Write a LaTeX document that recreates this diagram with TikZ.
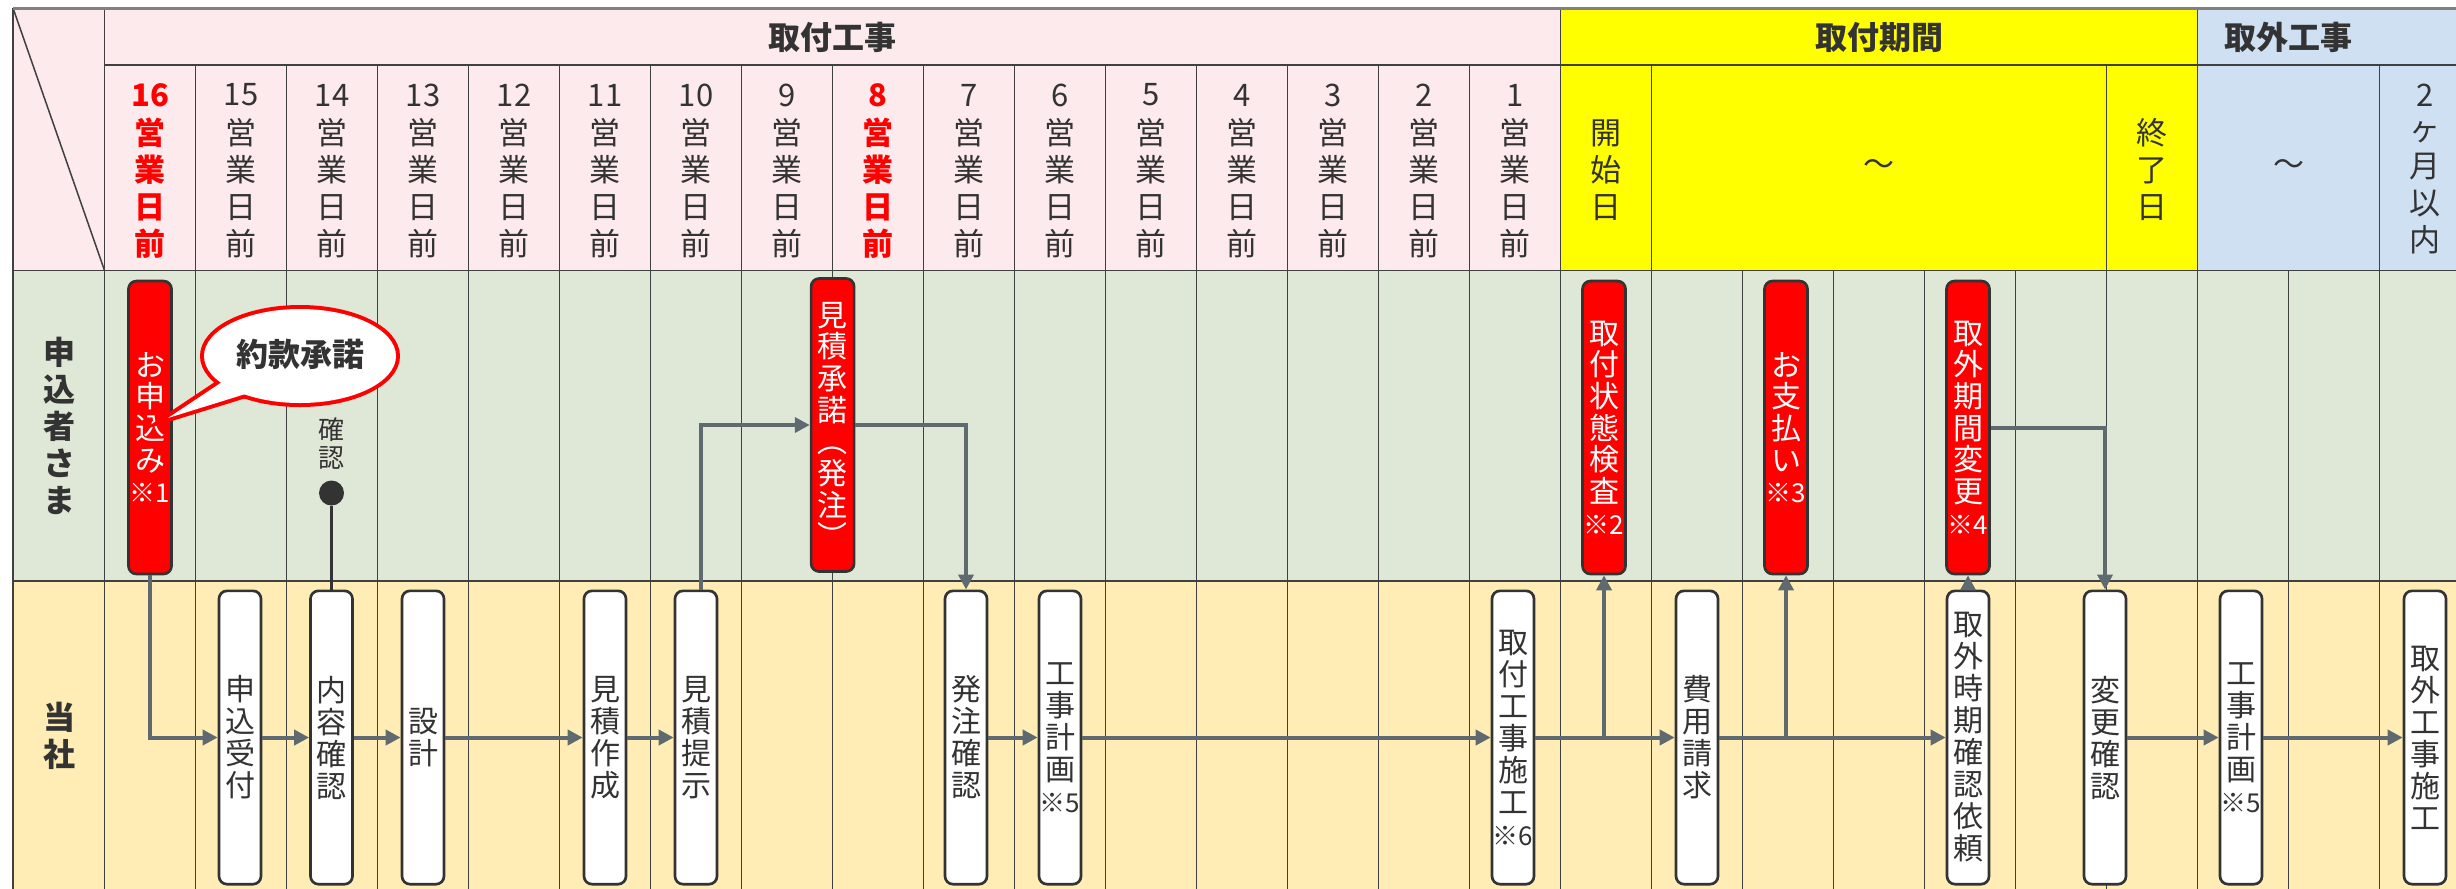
\documentclass[tikz,border=0pt]{standalone}
\usepackage{fontspec}
\setmainfont{Noto Sans CJK JP}
\usetikzlibrary{arrows.meta,calc}
\definecolor{pinkbg}{HTML}{FCEAEC}
\definecolor{yelbg}{HTML}{FFFF00}
\definecolor{bluebg}{HTML}{CFE0F3}
\definecolor{greenbg}{HTML}{DFE8D6}
\definecolor{creambg}{HTML}{FFEDB5}
\definecolor{gridc}{HTML}{404040}
\definecolor{txtc}{HTML}{333333}
\definecolor{arrc}{HTML}{5F6A70}
\definecolor{redc}{HTML}{FF0000}
\newcommand\smallnote[1]{{\fontsize{7.8}{9.6}\selectfont #1}}
\begin{document}
\begin{tikzpicture}[x=0.3pt,y=-0.3pt,
  gridline/.style={draw=gridc,line width=0.45pt},
  hdrtxt/.style={text=txtc,font=\bfseries\fontsize{9.6}{11}\selectfont,inner sep=0pt},
  daytxt/.style={text=txtc,align=center,text width=25pt,font=\fontsize{9.3}{11.1}\selectfont,inner sep=0pt},
  redday/.style={text=redc,align=center,text width=25pt,font=\bfseries\fontsize{9.3}{11.1}\selectfont,inner sep=0pt},
  lanetxt/.style={text=txtc,align=center,text width=25pt,font=\bfseries\fontsize{9.6}{11.1}\selectfont,inner sep=0pt},
  redbox/.style={draw=txtc,line width=0.8pt,fill=redc,rounded corners=2.4pt,minimum width=12.9pt,minimum height=87.9pt,inner sep=0pt,text width=12.8pt,text=white,align=center,font=\fontsize{9}{9.5}\selectfont},
  whitebox/.style={draw=txtc,line width=0.8pt,fill=white,rounded corners=2.4pt,minimum width=12.6pt,minimum height=88pt,inner sep=0pt,text width=12.6pt,text=txtc,align=center,font=\fontsize{9}{9.6}\selectfont},
  arr/.style={draw=arrc,line width=1.2pt,-{Triangle[length=4.5pt,width=4.5pt]}}
]
\useasboundingbox (0,0) rectangle (2456,888);
\clip (0,0) rectangle (2456,888);
\fill[white] (0,0) rectangle (2456,888);
% backgrounds
\fill[pinkbg] (13,8) rectangle (1560.6,270.7);
\fill[yelbg] (1560.6,8) rectangle (2197.6,270.7);
\fill[bluebg] (2197.6,8) rectangle (2480,270.7);
\fill[greenbg] (13,270.7) rectangle (2480,581);
\fill[creambg] (13,581) rectangle (2480,900);
% grid
\draw[gridline] (104.6,65) -- (2480,65);
\draw[gridline] (13,270.7) -- (2480,270.7);
\draw[gridline] (13,581) -- (2480,581);
\draw[gridline] (13,8) -- (13,900);
\draw[gridline] (104.6,8) -- (104.6,900);
\draw[gridline] (13,8) -- (104.6,270.7);
\foreach \k in {1,...,15,17,22,25} {
  \draw[gridline] ({104.6+91*\k},65) -- ({104.6+91*\k},900);
}
\foreach \k in {18,...,21,24} {
  \draw[gridline] ({104.6+91*\k},270.7) -- ({104.6+91*\k},900);
}
\draw[gridline] (1560.6,8) -- (1560.6,900);
\draw[gridline] (2197.6,8) -- (2197.6,900);
\draw[draw=gray,line width=0.9pt] (13,8) -- (2480,8);
% header texts
\node[hdrtxt] (h1) at (832.6,37) {取付工事};
\node[hdrtxt] (h2) at (1879,37) {取付期間};
\node[hdrtxt] (h3) at (2288.6,37) {取外工事};
\foreach \i in {1,...,7,9,10,11,12,13,14,15} {
  \pgfmathtruncatemacro\n{16-\i}
  \node[daytxt] (n\i) at ({150+91*\i},95) {\n};
  \node[daytxt] (d\i) at ({150+91*\i},188) {営\\業\\日\\前};
}
\node[redday] (n0) at (150,95) {16};
\node[redday] (d0) at (150,188) {営\\業\\日\\前};
\node[redday] (n8) at (878,95) {8};
\node[redday] (d8) at (878,188) {営\\業\\日\\前};
\node[daytxt] (ds) at (1606,170) {開\\始\\日};
\node[daytxt] (dw1) at (1879,168) {〜};
\node[daytxt] (de) at (2152,170) {終\\了\\日};
\node[daytxt] (dw2) at (2288.6,168) {〜};
\node[daytxt] (nm) at (2425,95) {2};
\node[daytxt] (dm) at (2425,188) {ヶ\\月\\以\\内};
% lane labels
\node[lanetxt] (l1) at (59,426) {申\\込\\者\\さ\\ま};
\node[lanetxt] (l2) at (59,736) {当\\社};
% customer boxes
\node[redbox] (r1) at (150,427.5) {お\\申\\込\\み\\\smallnote{※1}};
\node[redbox] (r2) at (832.6,425) {見\\積\\承\\諾\\︵\\発\\注\\︶};
\node[redbox] (r3) at (1604,427.5) {取\\付\\状\\態\\検\\査\\\smallnote{※2}};
\node[redbox] (r4) at (1786,427.5) {お\\支\\払\\い\\\smallnote{※3}};
\node[redbox] (r5) at (1968,427.5) {取\\外\\期\\間\\変\\更\\\smallnote{※4}};
% company boxes
\node[whitebox] (w1) at (240,737.5) {申\\込\\受\\付};
\node[whitebox] (w2) at (331.5,737.5) {内\\容\\確\\認};
\node[whitebox] (w3) at (423,737.5) {設\\計};
\node[whitebox] (w5) at (605,737.5) {見\\積\\作\\成};
\node[whitebox] (w6) at (696,737.5) {見\\積\\提\\示};
\node[whitebox] (w7) at (966,737.5) {発\\注\\確\\認};
\node[whitebox] (w8) at (1060,737.5) {工\\事\\計\\画\\\smallnote{※5}};
\node[whitebox] (w9) at (1513,737.5) {取\\付\\工\\事\\施\\工\\\smallnote{※6}};
\node[whitebox] (w10) at (1697,737.5) {費\\用\\請\\求};
\node[whitebox] (w11) at (1968,737.5) {取\\外\\時\\期\\確\\認\\依\\頼};
\node[whitebox] (w12) at (2105,737.5) {変\\更\\確\\認};
\node[whitebox] (w13) at (2241,737.5) {工\\事\\計\\画\\\smallnote{※5}};
\node[whitebox] (w14) at (2425,737.5) {取\\外\\工\\事\\施\\工};
% confirmation dot
\node[text=txtc,align=center,text width=20pt,inner sep=0pt,font=\fontsize{7.8}{8.3}\selectfont] (ck) at (331.5,443.5) {確\\認};
\node[circle,fill=txtc,inner sep=0pt,minimum size=7.5pt] (dot) at (331.5,493) {};
\draw[txtc,line width=0.7pt] (dot) -- (w2.north);
% arrows
\draw[arr] (r1.south) |- (w1.west);
\draw[arr] (w1.east) -- (w2.west);
\draw[arr] (w2.east) -- (w3.west);
\draw[arr] (w3.east) -- (w5.west);
\draw[arr] (w5.east) -- (w6.west);
\coordinate (w6top) at ($(w6.north)+(5,0)$);
\draw[arr] (w6top) |- (r2.west);
\draw[arr] (r2.east) -| (w7.north);
\draw[arr] (w7.east) -- (w8.west);
\draw[arr] (w8.east) -- (w9.west);
\draw[arr] (w9.east) -- (w10.west);
\draw[arr] (r3.south |- w9.east) -- (r3.south);
\draw[arr] (w10.east) -- (w11.west);
\draw[arr] (r4.south |- w10.east) -- (r4.south);
\draw[arr] (w11.north) -- (r5.south);
\draw[arr] (r5.east) -| (w12.north);
\draw[arr] (w12.east) -- (w13.west);
\draw[arr] (w13.east) -- (w14.west);
% callout
\coordinate (tip) at (168,418);
\draw[redc,line width=2.4pt,line join=round] (300,356) ellipse [x radius=96, y radius=47];
\draw[redc,line width=2.4pt,line join=miter] (tip) -- (234,374) -- (268,387) -- cycle;
\fill[white] (300,356) ellipse [x radius=96, y radius=47];
\fill[white] (tip) -- (234,374) -- (268,387) -- cycle;
\node[text=txtc,inner sep=0pt,font=\bfseries\fontsize{9.6}{11}\selectfont] (yk) at (300,354) {約款承諾};
\end{tikzpicture}
\end{document}
